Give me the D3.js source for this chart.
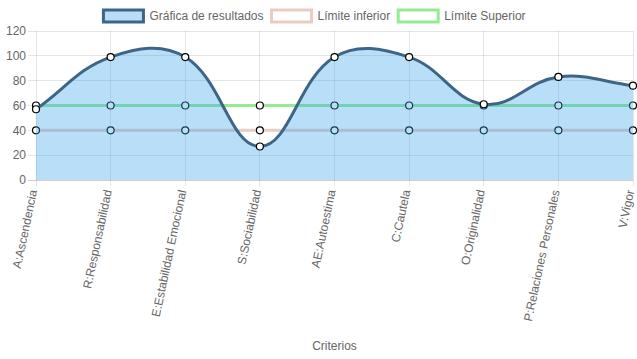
<!DOCTYPE html>
<html><head><meta charset="utf-8">
<script src="https://cdn.jsdelivr.net/npm/d3@7"></script>
<style>body{margin:0;background:#fff}svg{display:block}</style>
</head><body>
<svg id="c" width="637" height="359"></svg>
<script>
const categories = ["A:Ascendencia","R:Responsabilidad","E:Estabilidad Emocional","S:Sociabilidad","AE:Autoestima","C:Cautela","O:Originalidad","P:Relaciones Personales","V:Vigor"];
const resultados = [57, 99, 99, 27, 99, 99, 61, 83, 76];
const limiteInferior = [40, 40, 40, 40, 40, 40, 40, 40, 40];
const limiteSuperior = [60, 60, 60, 60, 60, 60, 60, 60, 60];
const yTicks = [0, 20, 40, 60, 80, 100, 120];
const seriesNames = ["Gráfica de resultados", "Límite inferior", "Límite Superior"];

(function () {
const W = 637, H = 359;
const pLeft = 36, pRight = 633, pTop = 31, pBottom = 180;
const font = "Arial, 'Liberation Sans', Helvetica, sans-serif";
const svg = d3.select("#c");
const x = d3.scalePoint().domain(categories).range([pLeft, pRight]);
const y = d3.scaleLinear().domain([0, 120]).range([pBottom, pTop]);

const styles = [
  {stroke: "#3e6587", fill: "rgba(54,162,235,0.35)"},
  {stroke: "#e9cdc3", fill: "#fff"},
  {stroke: "#93ec93", fill: "#fff"}
];

const g = svg.append("g");
yTicks.forEach(t => {
  g.append("line").attr("x1", pLeft - 8).attr("x2", pRight).attr("y1", y(t)).attr("y2", y(t))
    .attr("stroke", t === 0 ? "rgba(0,0,0,0.18)" : "rgba(0,0,0,0.1)").attr("stroke-width", 1).attr("shape-rendering", "crispEdges");
  g.append("text").attr("x", pLeft - 10).attr("y", y(t)).attr("dy", "0.35em").attr("text-anchor", "end")
    .attr("fill", "#666").attr("font-family", font).attr("font-size", 12).text(t);
});
categories.forEach(c => {
  g.append("line").attr("x1", x(c)).attr("x2", x(c)).attr("y1", pTop).attr("y2", pBottom + 6)
    .attr("stroke", "rgba(0,0,0,0.1)").attr("shape-rendering", "crispEdges");
  g.append("text").attr("transform", `translate(${x(c) - 2.5},${pBottom + 10}) rotate(-78)`)
    .attr("text-anchor", "end").attr("dy", "0.32em")
    .attr("fill", "#666").attr("font-family", font).attr("font-size", 12).text(c);
});
g.append("text").attr("x", (pLeft + pRight) / 2).attr("y", 350).attr("text-anchor", "middle")
  .attr("fill", "#666").attr("font-family", font).attr("font-size", 12).text("Criterios");

function pts(vals) { return vals.map((v, i) => ({x: x(categories[i]), y: y(v)})); }
function splinePath(p, t, path) {
  const cps = p.map((cur, i) => {
    const prev = p[i - 1] || cur, next = p[i + 1] || cur;
    const d01 = Math.hypot(cur.x - prev.x, cur.y - prev.y);
    const d12 = Math.hypot(next.x - cur.x, next.y - cur.y);
    let s01 = d01 / (d01 + d12), s12 = d12 / (d01 + d12);
    if (isNaN(s01)) s01 = 0; if (isNaN(s12)) s12 = 0;
    const fa = t * s01, fb = t * s12;
    return {
      px: cur.x - fa * (next.x - prev.x), py: cur.y - fa * (next.y - prev.y),
      nx: cur.x + fb * (next.x - prev.x), ny: cur.y + fb * (next.y - prev.y)
    };
  });
  path.moveTo(p[0].x, p[0].y);
  for (let i = 1; i < p.length; i++) {
    path.bezierCurveTo(cps[i - 1].nx, cps[i - 1].ny, cps[i].px, cps[i].py, p[i].x, p[i].y);
  }
  return path;
}
function drawLine(vals, s) {
  const p = pts(vals);
  const path = splinePath(p, 0.4, d3.path());
  svg.append("path").attr("d", path.toString()).attr("fill", "none")
    .attr("stroke", s.stroke).attr("stroke-width", 3);
  svg.append("g").selectAll("circle").data(p).join("circle")
    .attr("cx", d => d.x).attr("cy", d => d.y).attr("r", 3.5)
    .attr("fill", "#fff").attr("stroke", "#000").attr("stroke-width", 1.2);
}
drawLine(limiteSuperior, styles[2]);
drawLine(limiteInferior, styles[1]);
{
  const p = pts(resultados);
  const fp = splinePath(p, 0.4, d3.path());
  fp.lineTo(p[p.length - 1].x, y(0));
  fp.lineTo(p[0].x, y(0));
  fp.closePath();
  svg.append("path").attr("d", fp.toString()).attr("fill", styles[0].fill);
}
drawLine(resultados, styles[0]);

const leg = svg.append("g");
const items = seriesNames.map((n, i) => {
  const t = leg.append("text").attr("font-family", font).attr("font-size", 12).attr("fill", "#666").text(n);
  return {t, w: t.node().getComputedTextLength(), i};
});
const boxW = 40, gap = 6, pad = 8;
const total = d3.sum(items, d => boxW + gap + d.w) + pad * (items.length - 1);
let cx = (W - total) / 2 - 4;
items.forEach(d => {
  const s = styles[d.i];
  leg.append("rect").attr("x", cx).attr("y", 10).attr("width", boxW).attr("height", 12)
    .attr("fill", d.i === 0 ? "#b9dcf8" : "#fff").attr("stroke", s.stroke).attr("stroke-width", 3);
  d.t.attr("x", cx + boxW + gap).attr("y", 16).attr("dy", "0.35em");
  cx += boxW + gap + d.w + pad;
});
})();
</script>
</body></html>
